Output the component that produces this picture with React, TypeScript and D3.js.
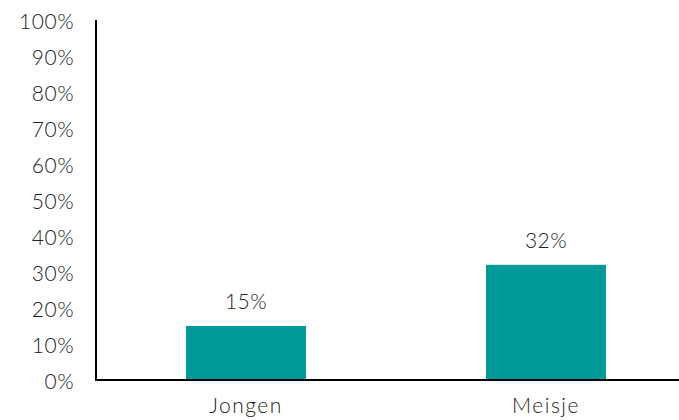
import React from "react";
import * as d3 from "d3";

const categories = ["Jongen", "Meisje"];
const values = [15, 32];
const yTicks = [0, 10, 20, 30, 40, 50, 60, 70, 80, 90, 100];

const W = 679;
const H = 420;
const left = 96;
const bottom = 380;
const top = 20;
const FONT = "'Lato', 'DejaVu Sans', sans-serif";

export default function App() {
  const x = d3.scaleBand<string>().domain(categories).range([left, left + 600]).paddingInner(0.6).paddingOuter(0.3);
  const y = d3.scaleLinear().domain([0, 100]).range([bottom, top]);
  return (
    <svg width={W} height={H} style={{ position: "absolute", left: 0, top: 0 }}>
      <rect width={W} height={H} fill="#fff" />
      {yTicks.map((t) => (
        <text key={t} x={74} y={y(t)} textAnchor="end" dominantBaseline="central" fontFamily={FONT} fontSize={21} fontWeight={300} letterSpacing={0.5} fill="#222">
          {t}%
        </text>
      ))}
      {categories.map((c, i) => (
        <g key={c}>
          <rect x={x(c)!} y={y(values[i])} width={x.bandwidth()} height={bottom - y(values[i])} fill="#009999" />
          <text x={x(c)! + x.bandwidth() / 2} y={y(values[i]) - 17} textAnchor="middle" fontFamily={FONT} fontSize={21} fontWeight={300} letterSpacing={0.5} fill="#222">
            {values[i]}%
          </text>
          <text x={x(c)! + x.bandwidth() / 2} y={413} textAnchor="middle" fontFamily={FONT} fontSize={21} fontWeight={300} letterSpacing={1.5} fill="#222">
            {c}
          </text>
        </g>
      ))}
      <line x1={left} x2={left} y1={top} y2={bottom + 1} stroke="#000" strokeWidth={2} />
      <line x1={left - 1} x2={W} y1={bottom} y2={bottom} stroke="#000" strokeWidth={2} />
    </svg>
  );
}
